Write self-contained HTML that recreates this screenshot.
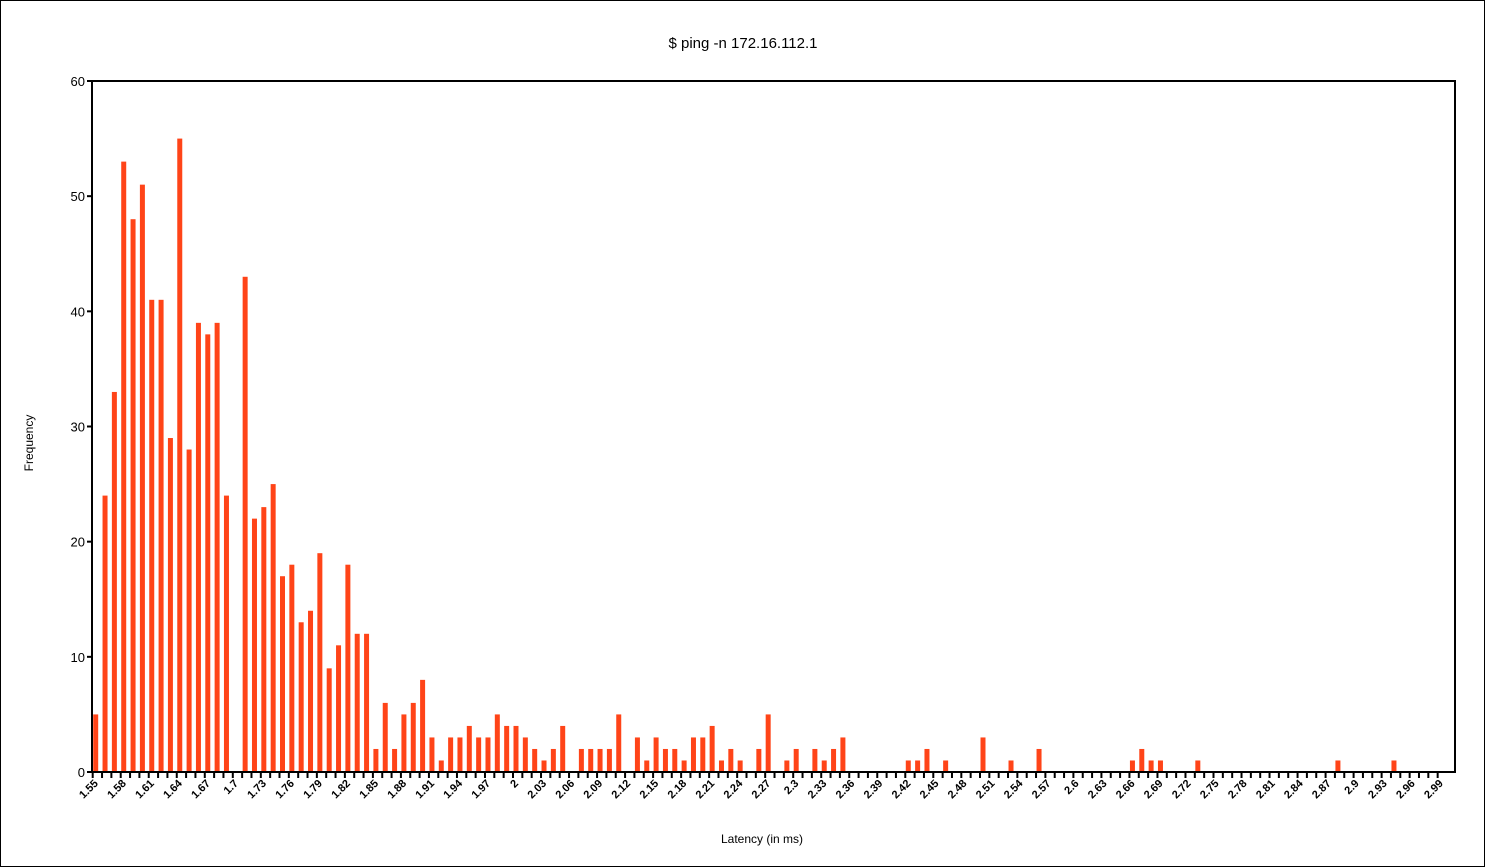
<!DOCTYPE html>
<html><head><meta charset="utf-8"><style>
body{margin:0;background:#fff;}
svg{display:block;font-family:"Liberation Sans",sans-serif;}
</style></head><body>
<svg id="chart" width="1485" height="867" xmlns="http://www.w3.org/2000/svg">
<rect x="0.5" y="0.5" width="1484" height="866" fill="#fff" stroke="#000"/>
<text x="743" y="48" text-anchor="middle" font-size="15">$ ping -n 172.16.112.1</text>
<text x="0" y="0" transform="translate(33,443) rotate(-90)" text-anchor="middle" font-size="12">Frequency</text>
<text x="762" y="843" text-anchor="middle" font-size="12">Latency (in ms)</text>
<g id="bars"></g><g id="axes"></g>
</svg>
<script>
const categories=[];for(let i=0;i<145;i++)categories.push(Math.round((1.55+i*0.01)*100)/100);
const frequencies=[5,24,33,53,48,51,41,41,29,55,28,39,38,39,24,0,43,22,23,25,17,18,13,14,19,9,11,18,12,12,
2,6,2,5,6,8,3,1,3,3,4,3,3,5,4,4,3,2,1,2,4,0,2,2,2,2,5,0,3,1,
3,2,2,1,3,3,4,1,2,1,0,2,5,0,1,2,0,2,1,2,3,0,0,0,0,0,0,1,1,2,
0,1,0,0,0,3,0,0,1,0,0,2,0,0,0,0,0,0,0,0,0,1,2,1,1,0,0,0,1,0,
0,0,0,0,0,0,0,0,0,0,0,0,0,1,0,0,0,0,0,1,0,0,0,0,0];
const yTicks=[0,10,20,30,40,50,60];
const X0=92,X1=1455,Y0=772,Y1=81,STEP=9.34;
const NS='http://www.w3.org/2000/svg';
function x(i){return 95.7+i*STEP;}
function y(v){return Y0-(v/60)*(Y0-Y1);}
function mk(t,a,p){const e=document.createElementNS(NS,t);for(const k in a)e.setAttribute(k,a[k]);p.appendChild(e);return e;}
const bars=document.getElementById('bars'),axes=document.getElementById('axes');
frequencies.forEach((f,i)=>{if(!f)return;const r=mk('rect',{x:x(i)-2.5,y:y(f),width:5,height:Y0-y(f),fill:'#ff4418'},bars);

});
const box=mk('rect',{x:X0,y:Y1,width:X1-X0,height:Y0-Y1,fill:'none',stroke:'#000','stroke-width':2},axes);


yTicks.forEach(t=>{mk('line',{x1:X0-5,x2:X0,y1:y(t),y2:y(t),stroke:'#000','stroke-width':2},axes);
const l=mk('text',{x:X0-7,y:y(t)+5,'text-anchor':'end','font-size':13},axes);l.textContent=t;

});
categories.forEach((c,i)=>{const xx=x(i)-3;mk('line',{x1:xx,x2:xx,y1:Y0,y2:Y0+6,stroke:'#000','stroke-width':2},axes);
if(i%3===0){const l=mk('text',{x:0,y:0,transform:`translate(${xx+6},${Y0+12}) rotate(-45)`,'text-anchor':'end','font-size':11,'font-weight':'bold'},axes);
l.textContent=String(c);

}});
</script>
</body></html>
